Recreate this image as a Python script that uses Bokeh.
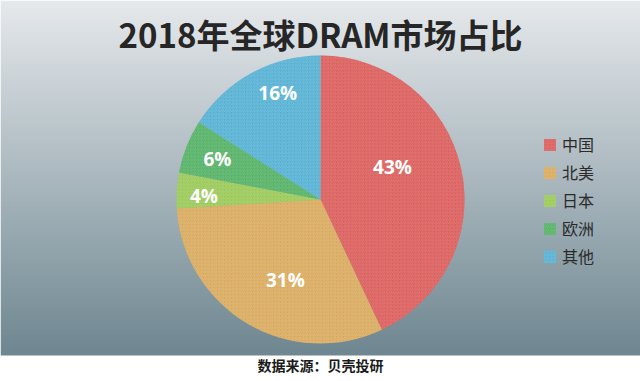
import numpy as np
from bokeh.plotting import figure
from bokeh.models import ColumnDataSource, Range1d, Legend, LegendItem
from bokeh.core.properties import value
from bokeh.embed import file_html
from bokeh.resources import INLINE

# ---- data ----
title = "2018年全球DRAM市场占比"
source_note = "数据来源：贝壳投研"
categories = ["中国", "北美", "日本", "欧洲", "其他"]
shares = [43, 31, 4, 6, 16]
pct_labels = ["43%", "31%", "4%", "6%", "16%"]

# ---- style ----
fill_colors = ["#D65C5A", "#D4A65C", "#95C455", "#52AD63", "#50ACCF"]
hatch_colors = ["#E8827F", "#E8C282", "#B7DC7D", "#7AC787", "#80C8E2"]
label_r_frac = [0.55, 0.61, 0.81, 0.77, 0.80]
label_shift_deg = [12, 7, 2, 0, -7]

W, H = 640, 381
CX, CY, R = 320, 182, 144

p = figure(width=W, height=H, output_backend="svg", toolbar_location=None,
           x_range=Range1d(0, W), y_range=Range1d(0, H),
           x_axis_type=None, y_axis_type=None, min_border=0,
           outline_line_color=None, background_fill_color="white",
           border_fill_color="white")
p.grid.visible = False

# gradient backdrop
top = np.array([0xE6, 0xE9, 0xEC], dtype=float)
bot = np.array([0x6F, 0x87, 0x91], dtype=float)
n = 200
t = np.linspace(0, 1, n)[:, None]  # row 0 = bottom
cols = (bot * (1 - t) + top * t).astype(np.uint32)
rgba = (255 << 24) | (cols[:, 2] << 16) | (cols[:, 1] << 8) | cols[:, 0]
img = np.repeat(rgba[:, None], 2, axis=1).astype(np.uint32)
p.image_rgba(image=[img], x=0, y=26, dw=W, dh=H - 26)

# pie wedges
frac = np.array(shares, dtype=float) / sum(shares)
ends_cum = np.cumsum(frac)
starts = np.pi / 2 - 2 * np.pi * np.concatenate([[0], ends_cum[:-1]])
ends = np.pi / 2 - 2 * np.pi * ends_cum
src = ColumnDataSource(dict(cat=categories, start=starts, end=ends,
                            fill=fill_colors, hatch=hatch_colors))
wr = p.wedge(x=CX, y=CY, radius=R, start_angle="start", end_angle="end",
             direction="clock", source=src, fill_color="fill", line_color=None,
             hatch_pattern="/", hatch_color="hatch", hatch_scale=3.5,
             hatch_weight=1, hatch_alpha=0.7)

# percentage labels
mid = (starts + ends) / 2 + np.radians(label_shift_deg)
lx = CX + R * np.array(label_r_frac) * np.cos(mid)
ly = CY + R * np.array(label_r_frac) * np.sin(mid)
p.text(x=lx, y=ly, text=pct_labels, text_color="white",
       text_font=value("Open Sans"), text_font_style="bold",
       text_font_size="19px", text_align="center", text_baseline="middle")

# title
p.text(x=[W / 2], y=[348], text=[title], text_color="#262626",
       text_font=value("Noto Sans CJK SC"), text_font_style="bold",
       text_font_size="33px", text_align="center", text_baseline="middle")

# source note
p.text(x=[W / 2], y=[17], text=[source_note], text_color="#1A1A1A",
       text_font=value("Noto Sans CJK SC"), text_font_style="bold",
       text_font_size="14px", text_align="center", text_baseline="middle")

legend = Legend(items=[LegendItem(label=c, renderers=[wr], index=i)
                       for i, c in enumerate(categories)],
                location=(542, 113), orientation="vertical",
                glyph_width=15, glyph_height=15, label_height=15,
                label_standoff=5, spacing=4, padding=0, margin=0,
                label_text_font="Noto Sans CJK SC", label_text_font_size="16px",
                label_text_color="#2A2A2A", border_line_color=None,
                background_fill_alpha=0)
p.add_layout(legend, "center")

open("out.html", "w").write(file_html(p, INLINE))
